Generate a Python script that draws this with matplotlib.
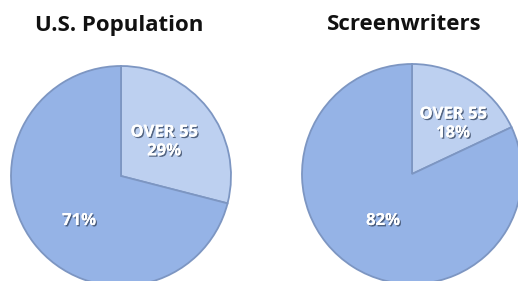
import matplotlib
matplotlib.use("Agg")
import matplotlib.pyplot as plt
import matplotlib.patheffects as pe

titles = ["U.S. Population", "Screenwriters"]
categories = ["OVER 55", "Under 55"]
us_values = [29, 71]
sw_values = [18, 82]
series = [us_values, sw_values]

W, H = 518, 281
fig = plt.figure(figsize=(W / 100, H / 100), dpi=100)
fig.patch.set_facecolor("white")

# pie centers and radius in pixels
centers = [(121, 176), (412, 174)]
R = 110
title_pos = [(119, 25), (404, 25)]
over_pos = [(164, 141), (453, 123)]
main_pos = [(79, 220), (383, 220)]

colors = ["#bdd0f0", "#95b3e6"]
edge = "#7d96c2"
fx = [pe.withSimplePatchShadow(offset=(1, -1), shadow_rgbFace="#3a4a66", alpha=0.8), pe.Normal()]
font = "Open Sans"

for i, vals in enumerate(series):
    cx, cy = centers[i]
    ax = fig.add_axes([(cx - R) / W, (H - cy - R) / H, 2 * R / W, 2 * R / H])
    wedges, _ = ax.pie(vals, startangle=90, counterclock=False, colors=colors, radius=1,
                       wedgeprops=dict(edgecolor=edge, linewidth=1.3))
    ax.set_xlim(-1, 1)
    ax.set_ylim(-1, 1)
    ax.set_aspect("equal")
    ax.axis("off")
    for w in wedges:
        w.set_clip_on(False)
    fig.text(title_pos[i][0] / W, 1 - title_pos[i][1] / H, titles[i], ha="center", va="center",
             fontsize=16, fontweight="bold", family=font, color="#111111")
    fig.text(over_pos[i][0] / W, 1 - over_pos[i][1] / H, f"{categories[0]}\n{vals[0]}%",
             ha="center", va="center", fontsize=12, fontweight="bold", family=font,
             color="white", linespacing=1.05, path_effects=fx)
    fig.text(main_pos[i][0] / W, 1 - main_pos[i][1] / H, f"{vals[1]}%",
             ha="center", va="center", fontsize=12, fontweight="bold", family=font,
             color="white", path_effects=fx)

fig.savefig("out.png", dpi=100, facecolor="white")
